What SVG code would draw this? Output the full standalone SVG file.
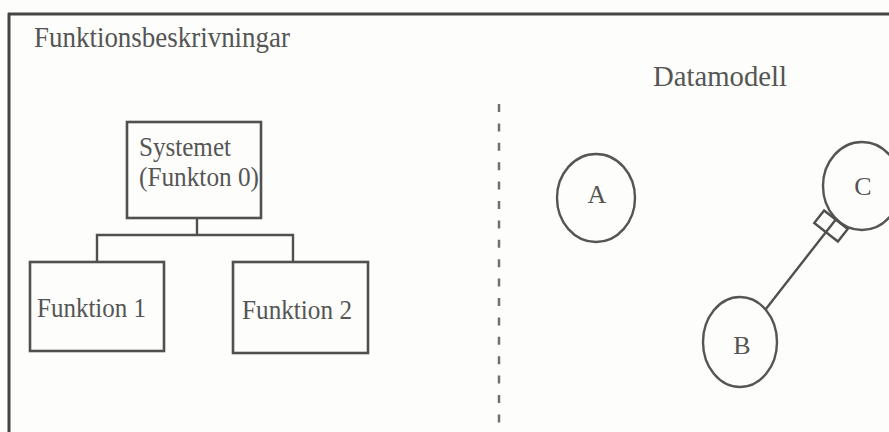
<svg xmlns="http://www.w3.org/2000/svg" width="889" height="432" viewBox="0 0 889 432">
<style>
.bg{fill:#fdfdfb}
.frame{stroke:#454545;stroke-width:3;fill:none}
.box{fill:none;stroke:#505050;stroke-width:2.6}
.conn{fill:none;stroke:#505050;stroke-width:2.4}
.ent{fill:none;stroke:#555;stroke-width:2.4}
.t{font-family:"Liberation Serif","Times New Roman",serif;fill:#555}
.big{font-size:29px}
.lbl{font-size:28px}
.ltr{font-size:26px;text-anchor:middle}
</style>
<rect class="bg" x="0" y="0" width="889" height="432"/>
<g id="frame">
<line class="frame" x1="8" y1="14" x2="889" y2="14"/>
<line class="frame" x1="9" y1="13" x2="9" y2="432"/>
<line x1="499" y1="104" x2="499" y2="424" stroke="#707070" stroke-width="2.5" stroke-dasharray="8 11.4"/>
</g>
<text class="t big" x="34" y="47" textLength="256" lengthAdjust="spacingAndGlyphs">Funktionsbeskrivningar</text>
<text class="t big" x="653" y="86" textLength="134" lengthAdjust="spacingAndGlyphs">Datamodell</text>
<g id="systemet">
<rect class="box" x="127" y="122" width="134" height="96"/>
<text class="t lbl" x="139" y="156" textLength="92" lengthAdjust="spacingAndGlyphs">Systemet</text>
<text class="t lbl" x="139" y="186" textLength="120" lengthAdjust="spacingAndGlyphs">(Funkton 0)</text>
</g>
<g id="funktion1">
<rect class="box" x="30" y="262" width="134" height="89"/>
<text class="t lbl" x="37" y="317" textLength="109" lengthAdjust="spacingAndGlyphs">Funktion 1</text>
</g>
<g id="funktion2">
<rect class="box" x="233" y="262" width="135" height="91"/>
<text class="t lbl" x="242" y="319" textLength="110" lengthAdjust="spacingAndGlyphs">Funktion 2</text>
</g>
<g id="entityA">
<ellipse class="ent" cx="596" cy="198" rx="39" ry="44"/>
<text class="t ltr" x="597" y="203">A</text>
</g>
<g id="entityB">
<ellipse class="ent" cx="740" cy="342" rx="37" ry="45"/>
<text class="t ltr" x="742" y="354">B</text>
</g>
<g id="entityC">
<ellipse class="ent" cx="862" cy="186" rx="39" ry="44"/>
<text class="t ltr" x="863" y="195">C</text>
</g>
<g id="connectors">
<polyline class="conn" points="197,218 197,235"/>
<polyline class="conn" points="97,262 97,235 293,235 293,262"/>
<line class="conn" x1="765.5" y1="309.4" x2="836.2" y2="219"/>
<g transform="translate(831,226) rotate(-52)">
<rect class="conn" x="-8" y="-15" width="16" height="30"/>
</g>
</g>
</svg>
